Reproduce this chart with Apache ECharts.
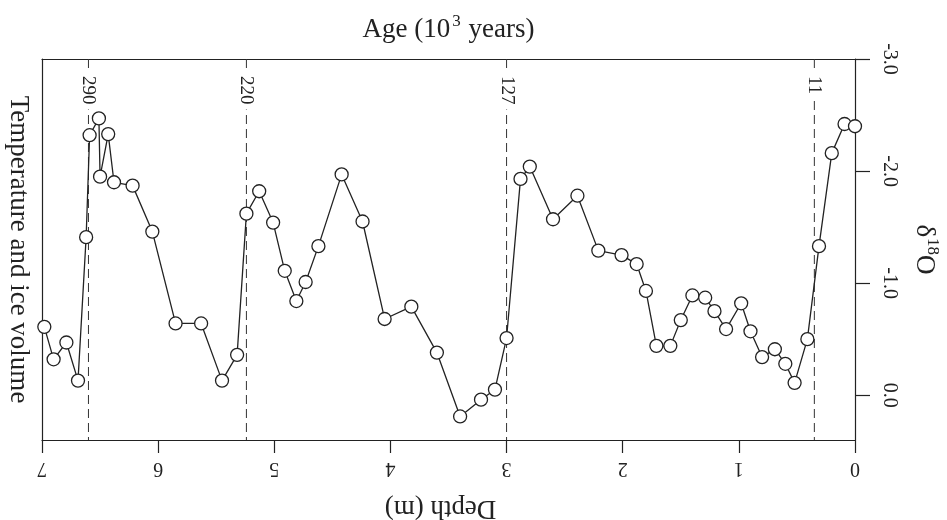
<!DOCTYPE html>
<html><head><meta charset="utf-8">
<script src="https://cdn.jsdelivr.net/npm/echarts@6/dist/echarts.min.js"></script>
<style>html,body{margin:0;padding:0;background:#fff}#c{width:947px;height:520px}</style>
</head><body><div id="c"></div>
<script>
const depth = [6.98,6.90,6.79,6.69,6.62,6.59,6.51,6.50,6.43,6.38,6.22,6.05,5.85,5.63,5.45,5.32,5.24,5.13,5.01,4.91,4.81,4.73,4.62,4.42,4.24,4.05,3.82,3.60,3.40,3.22,3.10,3.00,2.88,2.80,2.60,2.39,2.21,2.01,1.88,1.80,1.71,1.59,1.50,1.40,1.29,1.21,1.11,0.98,0.90,0.80,0.69,0.60,0.52,0.41,0.31,0.20,0.09,0.00];
const d18O = [-0.61,-0.32,-0.47,-0.13,-1.41,-2.32,-2.47,-1.95,-2.33,-1.90,-1.87,-1.46,-0.64,-0.64,-0.13,-0.36,-1.62,-1.82,-1.54,-1.11,-0.84,-1.01,-1.33,-1.97,-1.55,-0.68,-0.79,-0.38,0.19,0.04,-0.05,-0.51,-1.93,-2.04,-1.57,-1.78,-1.29,-1.25,-1.17,-0.93,-0.44,-0.44,-0.67,-0.89,-0.87,-0.75,-0.59,-0.82,-0.57,-0.34,-0.41,-0.28,-0.11,-0.50,-1.33,-2.16,-2.42,-2.40];
const ageDepths = [6.60, 5.24, 3.00, 0.35];
const ageLabels = ['290', '220', '127', '11'];
const d18OTicks = [-3, -2, -1, 0];
const yMin = -3.0, yMax = 0.4;

const FONT = '"Liberation Serif", "DejaVu Serif", serif';
const chart = echarts.init(document.getElementById('c'));
chart.setOption({
  animation: false,
  grid: {left: 42, right: 92, top: 59, bottom: 80, show: false, containLabel: false, outerBoundsMode: 'none'},
  xAxis: [{
    type: 'value', min: 0, max: 7, interval: 1, inverse: true, position: 'bottom',
    axisLine: {show: true, onZero: false, lineStyle: {color: '#222', width: 1.2}},
    axisTick: {show: true, inside: false, length: 13, lineStyle: {color: '#222', width: 1.2}},
    axisLabel: {show: true, rotate: 180, margin: 18, fontFamily: FONT, fontSize: 20, color: '#222'},
    splitLine: {show: false},
    name: 'Depth (m)', nameLocation: 'middle', nameGap: 55, nameRotate: 180,
    nameTextStyle: {fontFamily: FONT, fontSize: 27, color: '#222', padding: [0, 0, 0, 16]}
  }, {
    type: 'value', min: 0, max: 7, inverse: true, position: 'top',
    axisLine: {show: true, onZero: false, lineStyle: {color: '#222', width: 1.2}},
    axisTick: {show: false}, axisLabel: {show: false}, splitLine: {show: false},
    name: '{a|Age (10}{s|3}{a| years)}', nameLocation: 'middle', nameGap: 16,
    nameTextStyle: {rich: {
      a: {fontFamily: FONT, fontSize: 27, color: '#222', verticalAlign: 'bottom'},
      s: {fontFamily: FONT, fontSize: 17, color: '#222', verticalAlign: 'top', padding: [0, 1, 13, 2]}
    }}
  }],
  yAxis: [{
    type: 'value', min: yMin, max: yMax, inverse: true, position: 'right',
    axisLine: {show: true, onZero: false, lineStyle: {color: '#222', width: 1.2}},
    axisTick: {show: true, inside: false, length: 15, customValues: d18OTicks, lineStyle: {color: '#222', width: 1.2}},
    axisLabel: {show: true, rotate: -90, margin: 24, customValues: d18OTicks,
      formatter: v => v.toFixed(1), fontFamily: FONT, fontSize: 20, color: '#222'},
    splitLine: {show: false},
    name: '{a|δ}{s|18}{a|O}', nameLocation: 'middle', nameGap: 56, nameRotate: -90,
    nameTextStyle: {rich: {
      a: {fontFamily: FONT, fontSize: 27, color: '#222', verticalAlign: 'bottom'},
      s: {fontFamily: FONT, fontSize: 17, color: '#222', verticalAlign: 'top', padding: [0, 0, 13, 1]}
    }}
  }, {
    type: 'value', min: yMin, max: yMax, inverse: true, position: 'left',
    axisLine: {show: true, onZero: false, lineStyle: {color: '#222', width: 1.2}},
    axisTick: {show: false}, axisLabel: {show: false}, splitLine: {show: false},
    name: 'Temperature and ice volume', nameLocation: 'middle', nameGap: 10, nameRotate: -90,
    nameTextStyle: {fontFamily: FONT, fontSize: 27, color: '#222'}
  }],
  series: [{
    type: 'custom', xAxisIndex: 0, yAxisIndex: 0, clip: false, silent: true,
    data: ageDepths.map((d, i) => [d, yMin, i]),
    encode: {x: 0, y: 1},
    renderItem: function (params, api) {
      const d = api.value(0);
      const i = api.value(2);
      const top = api.coord([d, yMin]);
      const bot = api.coord([d, yMax]);
      return {type: 'group', children: [
        {type: 'line', shape: {x1: top[0], y1: top[1], x2: bot[0], y2: bot[1]},
         style: {stroke: '#333', lineWidth: 1, lineDash: [9, 5]}},
        {type: 'text', x: top[0], y: top[1] + 12, rotation: -Math.PI / 2,
         style: {text: ageLabels[i], font: '19px ' + FONT, fill: '#222',
                 align: 'left', verticalAlign: 'middle', backgroundColor: '#fff', padding: [2, 5]}}
      ]};
    }
  }, {
    type: 'line', xAxisIndex: 0, yAxisIndex: 0, clip: false,
    data: depth.map((d, i) => [d, d18O[i]]),
    symbol: 'circle', symbolSize: 13,
    lineStyle: {color: '#222', width: 1.3},
    itemStyle: {color: '#fff', borderColor: '#222', borderWidth: 1.3},
    z: 3
  }]
});
</script></body></html>
